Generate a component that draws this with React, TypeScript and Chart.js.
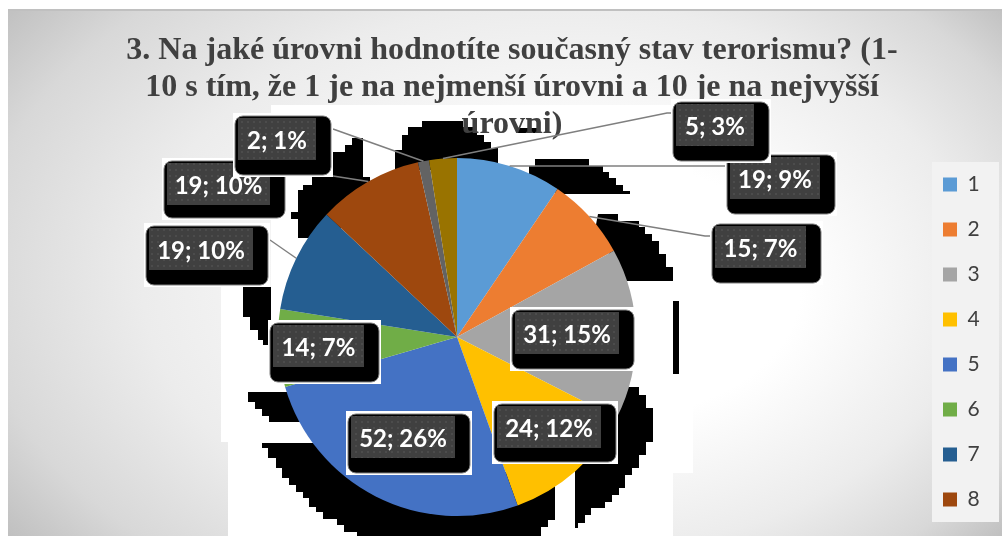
import React, { useEffect, useRef } from "react";
import { Chart, registerables } from "chart.js";

Chart.register(...registerables);

const categories = ["1", "2", "3", "4", "5", "6", "7", "8", "9", "10"];
const values = [19, 15, 31, 24, 52, 14, 19, 19, 2, 5];
const percents = [9, 7, 15, 12, 26, 7, 10, 10, 1, 3];
const colors = ["#5B9BD5", "#ED7D31", "#A5A5A5", "#FFC000", "#4472C4", "#70AD47", "#255E91", "#9E480E", "#636363", "#997300"];
const titleLines = [
  "3. Na jaké úrovni hodnotíte současný stav terorismu? (1-",
  "10 s tím, že 1 je na nejmenší úrovni a 10 je na nejvyšší",
  "úrovni)",
];

type P = number[];
// label frames: left, top, width, height
const labelFrames: P[] = [
  [725, 152, 112, 64],
  [710, 221, 113, 64],
  [510, 307, 126, 64],
  [492, 401, 126, 63],
  [346, 411, 126, 64],
  [268, 320, 113, 64],
  [144, 223, 126, 64],
  [162, 158, 125, 62],
  [233, 113, 100, 64],
  [671, 99, 100, 64],
];
// leader line route from slice edge to label
const leaderRoutes: (P[] | null)[] = [
  [[725, 166]],
  [[705, 236], [711, 236]],
  null,
  null,
  null,
  null,
  [[270, 240]],
  [[333, 176]],
  [[333, 129]],
  [[667, 113], [672, 113]],
];

const whitePatch: P[] = [[271, 105], [693, 105], [693, 473], [673, 473], [673, 536], [228, 536], [228, 442], [221, 442], [221, 287], [271, 287]];
const shadowPatches: P[][] = [
  [[395, 170], [395, 150], [402, 150], [402, 135], [408, 135], [408, 127], [422, 127], [422, 121], [463, 121], [463, 127], [477, 127], [477, 135], [484, 135], [484, 142], [491, 142], [491, 148], [498, 148], [498, 170]],
  [[333, 177], [333, 152], [345, 152], [345, 145], [352, 145], [352, 138], [363, 138], [363, 177]],
  [[312, 177], [312, 185], [303, 185], [303, 190], [298, 190], [298, 212], [291, 212], [291, 219], [298, 219], [298, 238], [330, 238], [370, 200], [370, 177]],
  [[243, 287], [271, 287], [271, 345], [263, 345], [263, 340], [258, 340], [258, 330], [250, 330], [250, 317], [243, 317]],
  [[248, 392], [300, 392], [310, 422], [269, 422], [269, 416], [262, 416], [262, 409], [255, 409], [255, 402], [248, 402]],
  [[262, 443], [262, 448], [268, 448], [268, 458], [276, 458], [276, 468], [282, 468], [282, 478], [289, 478], [289, 485], [296, 485], [296, 492], [303, 492], [303, 498], [309, 498], [309, 507], [316, 507], [316, 512], [323, 512], [323, 519], [337, 519], [337, 525], [344, 525], [344, 532], [357, 532], [357, 536], [541, 536], [541, 527], [548, 527], [548, 520], [555, 520], [555, 480], [320, 443]],
  [[575, 460], [575, 528], [578, 528], [578, 523], [585, 523], [585, 515], [591, 515], [591, 508], [605, 508], [605, 502], [612, 502], [612, 495], [619, 495], [619, 488], [625, 488], [625, 475], [632, 475], [632, 468], [639, 468], [639, 455], [646, 455], [646, 442], [653, 442], [653, 408], [646, 408], [646, 395], [639, 395], [639, 387], [625, 387], [610, 440]],
  [[673, 301], [679, 301], [679, 374], [673, 374]],
  [[529, 175], [529, 166], [535, 166], [535, 159], [589, 159], [589, 166], [603, 166], [603, 172], [609, 172], [609, 178], [616, 178], [616, 185], [623, 185], [623, 191], [630, 191], [630, 194], [557, 194]],
  [[598, 214], [618, 214], [618, 221], [639, 221], [639, 227], [645, 227], [645, 234], [652, 234], [652, 241], [659, 241], [659, 254], [666, 254], [666, 267], [673, 267], [673, 281], [625, 281], [595, 230]],
  [[517, 128], [537, 128], [537, 133], [517, 133]],
];

function fillPoly(ctx: CanvasRenderingContext2D, pts: P[]) {
  ctx.beginPath();
  pts.forEach((p, i) => (i ? ctx.lineTo(p[0], p[1]) : ctx.moveTo(p[0], p[1])));
  ctx.closePath();
  ctx.fill();
}

function roundBox(ctx: CanvasRenderingContext2D, x: number, y: number, w: number, h: number, r: number) {
  ctx.beginPath();
  ctx.roundRect(x, y, w, h, r);
}

const backdropPlugin = {
  id: "backdrop",
  afterLayout(chart: any) {
    chart.chartArea = { left: 278, right: 636, top: 158, bottom: 516, width: 358, height: 358 };
    const t = chart.titleBlock;
    t.left = 22; t.right = 1002; t.top = 32; t.bottom = 145;
    const l = chart.legend;
    l.left = 919; l.right = 1002; l.top = 150; l.bottom = 700;
  },
  beforeDraw(chart: any) {
    const ctx: CanvasRenderingContext2D = chart.ctx;
    ctx.save();
    ctx.fillStyle = "#ffffff";
    ctx.fillRect(0, 0, 1002, 536);
    ctx.save();
    ctx.beginPath();
    ctx.rect(8, 10, 994, 526);
    ctx.clip();
    ctx.scale(1, 1 / 1.5);
    const g = ctx.createRadialGradient(610, 290 * 1.5, 190, 505, 270 * 1.5, 640);
    g.addColorStop(0, "#ffffff");
    g.addColorStop(0.5, "#ececec");
    g.addColorStop(0.8, "#d8d8d8");
    g.addColorStop(1, "#bfbfbf");
    ctx.fillStyle = g;
    ctx.fillRect(0, 0, 1002, 536 * 1.5);
    ctx.restore();
    ctx.fillStyle = "#c0c0c0";
    ctx.fillRect(8, 9, 994, 2);
    ctx.fillStyle = "#ffffff";
    fillPoly(ctx, whitePatch);
    ctx.fillStyle = "#000000";
    shadowPatches.forEach((p) => fillPoly(ctx, p));
    ctx.fillStyle = "#f2f2f2";
    ctx.fillRect(932, 162, 67, 360);
    ctx.restore();
  },
};

function dotPattern(ctx: CanvasRenderingContext2D) {
  const c = document.createElement("canvas");
  c.width = 6; c.height = 6;
  const x = c.getContext("2d")!;
  x.fillStyle = "#404040";
  x.fillRect(0, 0, 6, 6);
  x.fillStyle = "#4c4c4c";
  x.fillRect(1, 1, 2, 2);
  return ctx.createPattern(c, "repeat")!;
}

const labelPlugin = {
  id: "sliceLabels",
  afterDatasetsDraw(chart: any) {
    const ctx: CanvasRenderingContext2D = chart.ctx;
    const arcs = chart.getDatasetMeta(0).data;
    const pattern = dotPattern(ctx);
    ctx.save();
    ctx.strokeStyle = "#7f7f7f";
    ctx.lineWidth = 1.5;
    arcs.forEach((arc: any, i: number) => {
      const route = leaderRoutes[i];
      if (!route) return;
      const mid = (arc.startAngle + arc.endAngle) / 2;
      ctx.beginPath();
      ctx.moveTo(arc.x + Math.cos(mid) * arc.outerRadius, arc.y + Math.sin(mid) * arc.outerRadius);
      route.forEach((p) => ctx.lineTo(p[0], p[1]));
      ctx.stroke();
    });
    arcs.forEach((_: any, i: number) => {
      const [x, y, w, h] = labelFrames[i];
      ctx.fillStyle = "#ffffff";
      ctx.fillRect(x, y, w, h);
      roundBox(ctx, x + 2, y + 3, w - 4, h - 5, 8);
      ctx.fillStyle = "#000000";
      ctx.fill();
      ctx.strokeStyle = "#808080";
      ctx.lineWidth = 1;
      ctx.stroke();
      ctx.fillStyle = pattern;
      ctx.fillRect(x + 5, y + 5, w - 22, 42);
      ctx.fillStyle = "#ffffff";
      ctx.font = "bold 24px Lato";
      ctx.textAlign = "center";
      ctx.textBaseline = "middle";
      ctx.fillText(`${values[i]}; ${percents[i]}%`, x + 5 + (w - 22) / 2, y + 28);
    });
    ctx.restore();
  },
};

export default function App() {
  const ref = useRef<HTMLCanvasElement | null>(null);
  useEffect(() => {
    const chart = new Chart(ref.current!, {
      type: "pie",
      data: {
        labels: categories,
        datasets: [{ data: values, backgroundColor: colors, borderWidth: 0 }],
      },
      options: {
        responsive: false,
        animation: false,
        plugins: {
          tooltip: { enabled: false },
          title: {
            display: true,
            text: titleLines,
            color: "#404040",
            padding: 0,
            font: { family: "'Liberation Serif'", weight: "bold", size: 32, lineHeight: 37 / 32 },
          },
          legend: {
            position: "right",
            align: "start",
            labels: {
              filter: (item: any) => item.index < 8,
              boxWidth: 14,
              boxHeight: 14,
              padding: 24,
              color: "#404040",
              font: { family: "Lato", size: 21 },
            },
          },
        },
      },
      plugins: [backdropPlugin, labelPlugin],
    } as any);
    return () => chart.destroy();
  }, []);
  return <canvas ref={ref} width={1002} height={536} style={{ position: "fixed", left: 0, top: 0, display: "block" }} />;
}
